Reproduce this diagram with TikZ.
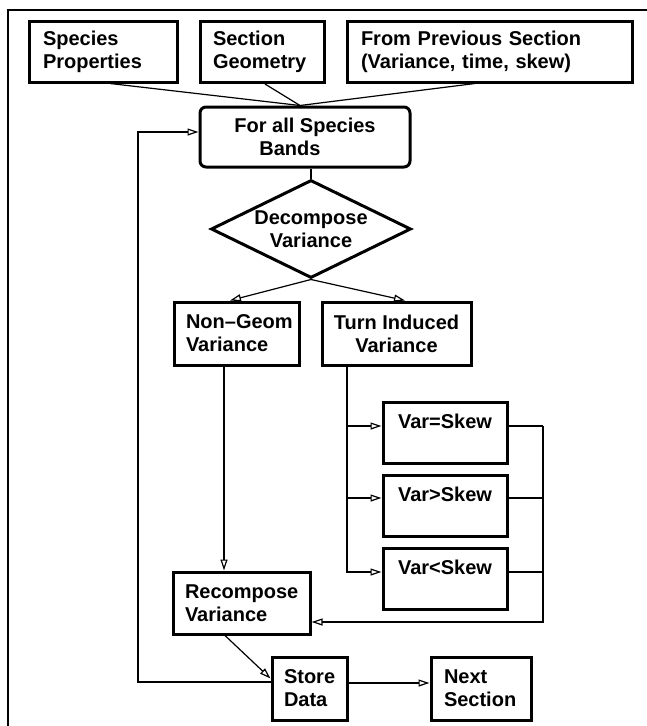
\documentclass[tikz,border=0pt]{standalone}
\usepackage{fontspec}
\setmainfont{Liberation Sans}
\usetikzlibrary{shapes.geometric,arrows.meta,calc}
\begin{document}
\begin{tikzpicture}[x=1pt,y=-1pt,
  font=\fontsize{20pt}{23pt}\selectfont\bfseries,
  lbox/.style={draw, line width=3pt, inner ysep=0pt, minimum height=61pt, align=left},
  cbox/.style={draw, line width=3pt, inner sep=0pt, minimum height=61pt, align=center},
  conn/.style={line width=1.2pt},
  arr/.style={conn, -{Triangle[open,length=11pt,width=7pt,line width=1.2pt]}},
]
\useasboundingbox (0,0) rectangle (647,726);
% frame
\draw[line width=2pt] (8,726) -- (8,10) -- (647,10);

% nodes
\node[lbox, text width=120pt, inner xsep=14pt] (sp) at (103,51.5) {Species\\Properties};
\node[lbox, text width=98pt, inner xsep=13pt] (sg) at (262,52) {Section\\Geometry};
\node[lbox, text width=257pt, inner xsep=14pt] (fp) at (489.5,51.5) {From Previous Section\\(Variance, time, skew)};
\node[draw, line width=3pt, rounded corners=6pt, inner sep=0pt, minimum width=210pt, minimum height=60pt, align=left] (bands) at (305,137) {For all Species\\\hspace*{25pt}Bands};
\node[diamond, draw, line width=3pt, aspect=2, minimum width=200pt, minimum height=98pt, inner sep=0pt, align=center] (dec) at (311,229) {Decompose\\Variance};
\node[lbox, text width=101pt, inner xsep=12pt, minimum height=63pt] (ng) at (236.5,333.5) {\mbox{Non--Geom}\\Variance};
\node[cbox, minimum width=149pt, minimum height=63pt] (ti) at (396.5,333.5) {Turn Induced\\Variance};
\node[cbox, minimum width=124pt] (v1) at (445,432.5) {Var=Skew\\\mbox{}};
\node[cbox, minimum width=124pt] (v2) at (445,505.5) {Var>Skew\\\mbox{}};
\node[cbox, minimum width=124pt] (v3) at (445,578.5) {Var<Skew\\\mbox{}};
\node[lbox, text width=113pt, inner xsep=12pt, minimum height=62pt] (rc) at (241.5,603) {Recompose\\Variance};
\node[lbox, text width=51pt, inner xsep=12pt, minimum height=63pt] (sd) at (309.5,688.5) {Store\\Data};
\node[lbox, text width=74pt, inner xsep=13pt, minimum height=63pt] (ns) at (481,688.5) {Next\\Section};

% helper coordinates
\coordinate (J) at ([xshift=-5pt]bands.north);
\coordinate (tb) at ([xshift=-49.5pt]ti.south);
\coordinate (a1) at ([yshift=6.5pt]v1.west);
\coordinate (a2) at ([yshift=7.5pt]v2.west);
\coordinate (a3) at ([yshift=6.5pt]v3.west);
\coordinate (b1) at ([yshift=6.5pt]v1.east);
\coordinate (b2) at ([yshift=7.5pt]v2.east);
\coordinate (b3) at ([yshift=6.5pt]v3.east);
\coordinate (rx) at (543,0);
\coordinate (lx) at (138,0);
\coordinate (s1) at ([yshift=6.5pt]sd.west);
\coordinate (e1) at ([yshift=5pt]bands.west);

% connectors
\draw[conn] ([xshift=7pt]sp.south) -- (J);
\draw[conn] ([xshift=3pt]sg.south) -- (J);
\draw[conn] ([xshift=-14.5pt]fp.south) -- (J);
\draw[conn] (dec.north |- bands.south) -- (dec.north);
\draw[arr] (dec.south) -- ([xshift=-6.5pt]ng.north);
\draw[arr] (dec.south) -- ([xshift=8.5pt]ti.north);
\draw[arr] ([xshift=-12.5pt]ng.south) -- ([xshift=-17.5pt]rc.north);
\draw[arr] (tb |- a1) -- (a1);
\draw[arr] (tb |- a2) -- (a2);
\draw[arr] (tb) |- (a3);
\draw[conn] (b1) -- (b1 -| rx);
\draw[conn] (b2) -- (b2 -| rx);
\draw[conn] (b3) -- (b3 -| rx);
\draw[arr] (b1 -| rx) |- ([yshift=-19pt]rc.east);
\draw[arr] ([xshift=-16.5pt]rc.south) -- ([yshift=10pt]sd.west);
\draw[arr] ([yshift=5.5pt]sd.east) -- ([yshift=5.5pt]ns.west);
\draw[arr] (s1) -- (s1 -| lx) |- (e1);
\end{tikzpicture}
\end{document}
